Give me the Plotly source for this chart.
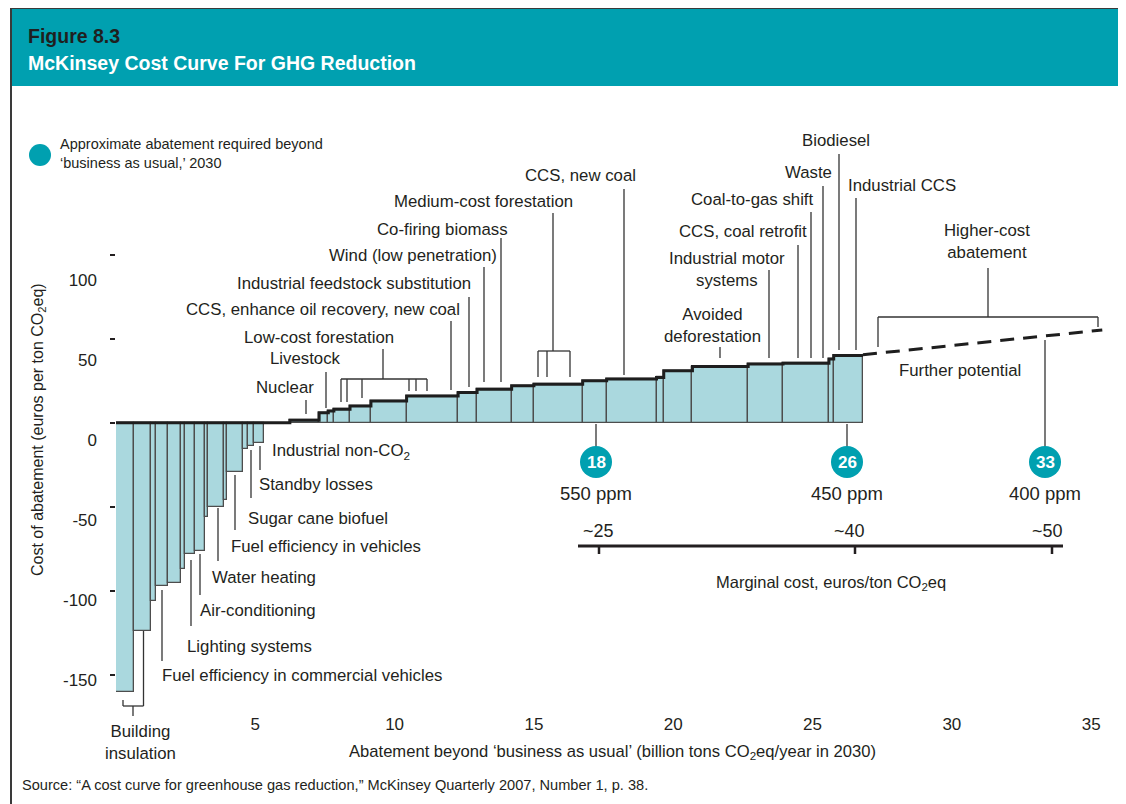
import plotly.graph_objects as go

# ---------------- data ----------------
# abatement segments, left to right (width in billion t CO2eq, cost in euros/t CO2eq)
segment_widths = [0.65, 0.60, 0.18, 0.42, 0.50, 0.14, 0.34, 0.35, 0.12, 0.58, 0.12, 0.56, 0.16, 0.24, 0.36,
                  0.92,
                  1.05, 0.33, 0.20, 0.58, 0.75, 1.28, 1.85, 0.68, 1.24, 0.80, 1.75, 0.86, 1.79, 0.26,
                  1.03, 2.00, 1.25, 1.65, 0.17, 1.05]
segment_costs = [-160, -124, -106, -97, -95, -87, -78, -76, -56, -50, -46, -29, -15.5, -13.5, -12,
                 0,
                 1.5, 6, 7, 8, 10, 13, 16, 18, 20, 22, 23, 25, 26, 27,
                 31, 33.5, 35, 35.5, 38, 40]
further_potential_x = [26.81, 35.4]
further_potential_cost = [40.5, 55.2]

scenario_labels = ["18", "26", "33"]
ppm_labels = ["550 ppm", "450 ppm", "400 ppm"]
marginal_cost_labels = ["~25", "~40", "~50"]

x_tick_vals = [5, 10, 15, 20, 25, 30, 35]
y_tick_vals = [-150, -100, -50, 0, 50, 100]
y_tick_text = ["-150", "-100", "-50", "0", "50", "100"]

# ---------------- styling / layout helpers ----------------
FONT = "Liberation Sans, Arial, Helvetica, sans-serif"
TXT = "#231f20"
TEAL = "#00a0b0"
FILL = "#aad8de"
EDGE = "#4d4d4d"
LINEC = "#333333"
LS = 16.8  # label font size

OFF = 8  # page body margin of the html page
W, H = 1126 - OFF, 804 - OFF
# plot area in page pixels: left 116, right 1119, top 137, bottom 712
ML, MR, MT, MB = 116 - OFF, W - (1119 - OFF), 137 - OFF, H - (712 - OFF)
PW, PH = W - ML - MR, H - MT - MB


def PX(px):
    return (px - OFF - ML) / PW


def PY(py):
    return (H - MB - (py - OFF)) / PH


edges = [0.0]
for w in segment_widths:
    edges.append(edges[-1] + w)
centers = [(edges[i] + edges[i + 1]) / 2 for i in range(len(segment_widths))]

bar_x = [c for c, v in zip(centers, segment_costs) if v != 0]
bar_w = [w for w, v in zip(segment_widths, segment_costs) if v != 0]
bar_y = [v for v in segment_costs if v != 0]

step_x = edges
step_y = [max(v, 0) for v in segment_costs] + [max(segment_costs[-1], 0)]

fig = go.Figure()
fig.add_trace(go.Bar(x=bar_x, y=bar_y, width=bar_w,
                     marker=dict(color=FILL, line=dict(color=EDGE, width=1.3)),
                     hoverinfo="x+y"))
fig.add_trace(go.Scatter(x=step_x, y=step_y, mode="lines", line=dict(color="#1e1e1e", width=3, shape="hv"),
                         hoverinfo="skip"))
fig.add_trace(go.Scatter(x=further_potential_x, y=further_potential_cost, mode="lines",
                         line=dict(color="#1e1e1e", width=3, dash="14px,9px"), hoverinfo="skip"))
fig.add_trace(go.Scatter(x=[None], y=[None], yaxis="y2", hoverinfo="skip"))

shapes = []
annotations = []


def seg(x0, y0, x1, y1, width=1.3, color=LINEC):
    shapes.append(dict(type="line", xref="paper", yref="paper", x0=PX(x0), y0=PY(y0), x1=PX(x1), y1=PY(y1),
                       line=dict(color=color, width=width)))


def label(text, px, py, anchor="center", size=LS, color=TXT, bold=False, align="center"):
    if bold:
        text = "<b>" + text + "</b>"
    annotations.append(dict(text=text, x=PX(px), y=PY(py), xref="paper", yref="paper", xanchor=anchor,
                            yanchor="middle", showarrow=False, align=align,
                            font=dict(family=FONT, size=size, color=color)))


# frame + banner
shapes.append(dict(type="rect", xref="paper", yref="paper", x0=PX(12), x1=PX(1121), y0=PY(86), y1=PY(9),
                   fillcolor=TEAL, line=dict(width=0), layer="below"))
shapes.append(dict(type="rect", xref="paper", yref="paper", x0=PX(11), x1=PX(1122), y0=PY(812), y1=PY(8),
                   line=dict(color="#3a3a3a", width=2)))
label("Figure 8.3", 26, 36, anchor="left", size=19.5, color="#1f1f1f", bold=True)
label("McKinsey Cost Curve For GHG Reduction", 26, 63, anchor="left", size=19.5, color="white", bold=True)

# legend
shapes.append(dict(type="circle", xref="paper", yref="paper", xsizemode="pixel", ysizemode="pixel",
                   xanchor=PX(40), yanchor=PY(155), x0=-11, x1=11, y0=-11, y1=11,
                   fillcolor=TEAL, line=dict(width=0)))
label("Approximate abatement required beyond<br>‘business as usual,’ 2030", 58, 153, anchor="left",
      size=14.5, align="left")

# axis titles and source
annotations.append(dict(text="Cost of abatement (euros per ton CO<sub>2</sub>eq)", x=PX(38), y=PY(430),
                        xref="paper", yref="paper", xanchor="center", yanchor="middle",
                        textangle=-90, showarrow=False,
                        font=dict(family=FONT, size=16, color=TXT)))
label("Abatement beyond ‘business as usual’ (billion tons CO<sub>2</sub>eq/year in 2030)", 612, 752, size=16.6)
label("Source: “A cost curve for greenhouse gas reduction,” McKinsey Quarterly 2007, Number 1, p. 38.",
      20, 785, anchor="left", size=14.6)

# labels above the curve (text, x, y, leader x, leader top, leader bottom)
top_labels = [
    ("Biodiesel", 836, 140, 839, 154, 350),
    ("Waste", 808, 172, 823, 186, 358),
    ("Industrial CCS", 902, 185, 856, 198, 350),
    ("Coal-to-gas shift", 752, 200, 811, 212, 358),
    ("CCS, coal retrofit", 743, 231, 798, 245, 358),
    ("Industrial motor<br>systems", 727, 269, 769, 270, 358),
    ("Avoided<br>deforestation", 712, 325, 720, 347, 358),
    ("CCS, new coal", 580, 176, 624, 189, 375),
    ("Medium-cost forestation", 483, 201, 553, 213, 351),
    ("Co-firing biomass", 442, 229, 501, 238, 382),
    ("Wind (low penetration)", 413, 255, 484, 267, 382),
    ("Industrial feedstock substitution", 354, 283, 469, 297, 387),
    ("CCS, enhance oil recovery, new coal", 323, 309, 451, 321, 390),
    ("Low-cost forestation", 319, 337, 383, 349, 379),
    ("Livestock", 305, 358, 326, 372, 408),
    ("Nuclear", 285, 387, 306, 400, 414),
]
for t, lx, ly, vx, v0, v1 in top_labels:
    label(t, lx, ly)
    seg(vx, v0, vx, v1)

# brackets
seg(538, 351, 570, 351)
for bx in (538, 547, 570):
    seg(bx, 351, bx, 377)
seg(341, 379, 427, 379)
for bx, by in ((341, 402), (347, 402), (362, 398), (409, 391), (416, 391), (427, 391)):
    seg(bx, 379, bx, by)

label("Higher-cost<br>abatement", 987, 242)
seg(988, 268, 988, 317)
seg(878, 317, 1098, 317)
seg(878, 317, 878, 347)
seg(1098, 317, 1098, 327)
label("Further potential", 960, 370)

# labels below the curve
neg_labels = [
    ("Industrial non-CO<sub>2</sub>", 270, 452, None),
    ("Standby losses", 257, 484, (260, 446, 470)),
    ("Sugar cane biofuel", 246, 518, (251, 450, 498)),
    ("Fuel efficiency in vehicles", 229, 546, (235, 475, 530)),
    ("Water heating", 210, 577, (218, 508, 561)),
    ("Air-conditioning", 198, 610, (200, 554, 595)),
    ("Lighting systems", 185, 646, (191, 560, 626)),
    ("Fuel efficiency in commercial vehicles", 160, 675, (162, 590, 661)),
]
for t, lx, ly, ld in neg_labels:
    label(t, lx, ly, anchor="left", align="left")
    if ld:
        seg(ld[0], ld[1], ld[0], ld[2])

label("Building<br>insulation", 140, 742)
seg(143.5, 631, 143.5, 706)
seg(123, 706, 143.5, 706)
seg(123, 700, 123, 706)
seg(133, 706, 133, 716)

# scenarios
scen_px = [596, 847, 1045]
lead_tops = [424, 424, 340]
for s, ppm, mc, sx, lt in zip(scenario_labels, ppm_labels, marginal_cost_labels, scen_px, lead_tops):
    seg(sx, lt, sx, 447)
    shapes.append(dict(type="circle", xref="paper", yref="paper", xsizemode="pixel", ysizemode="pixel",
                       xanchor=PX(sx), yanchor=PY(462), x0=-16, x1=16, y0=-16, y1=16,
                       fillcolor=TEAL, line=dict(width=0)))
    label(s, sx, 463, size=17, color="white", bold=True)
    label(ppm, sx, 493, size=18.5)
    label(mc, sx + 2, 531, size=18)
for tx in (599, 855, 1052):
    seg(tx, 546, tx, 554, width=2.5, color=TXT)
seg(578, 546, 1063, 546, width=3, color=TXT)
label("Marginal cost, euros/ton CO<sub>2</sub>eq", 831, 583, size=16.5)

fig.update_layout(
    width=W, height=H, margin=dict(l=ML, r=MR, t=MT, b=MB),
    paper_bgcolor="white", plot_bgcolor="white", showlegend=False,
    shapes=shapes, annotations=annotations, bargap=0,
    xaxis=dict(range=[0, 36], tickvals=x_tick_vals, showgrid=False, zeroline=False, showline=False,
               ticks="", tickfont=dict(family=FONT, size=17, color=TXT)),
    yaxis=dict(range=[-172, 170], tickvals=y_tick_vals, ticks="outside", ticklen=5, tickwidth=2,
               tickcolor=TXT, showticklabels=False, showgrid=False, zeroline=False, showline=False),
    yaxis2=dict(overlaying="y", anchor="x", side="left", range=[-170, 189.375], tickvals=y_tick_vals,
                ticktext=y_tick_text, ticks="", showgrid=False, zeroline=False, showline=False,
                ticklabelstandoff=18, tickfont=dict(family=FONT, size=17, color=TXT)),
)

fig.write_html("out.html")
